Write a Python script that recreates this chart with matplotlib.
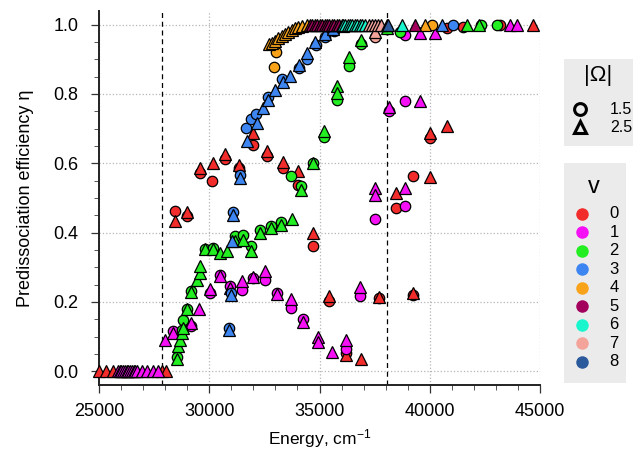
import matplotlib
matplotlib.use("Agg")
import matplotlib.pyplot as plt
from matplotlib.ticker import MultipleLocator

plt.rcParams['font.family'] = ['Liberation Sans', 'DejaVu Sans']
plt.rcParams['mathtext.fontset'] = 'custom'
plt.rcParams['mathtext.rm'] = 'Liberation Sans'
plt.rcParams['mathtext.it'] = 'Liberation Sans:italic'

# ---- data: energies (cm-1) and predissociation efficiency, per v and |Omega|
# v = 0
v0_c_E = [28450, 28990, 29580, 30110, 30710, 31350, 32000, 32630, 33330, 34040,
          34720, 35440, 36200, 37700, 38470, 39220, 39250, 40010, 40760, 41520, 43200]
v0_c_eta = [0.461, 0.447, 0.572, 0.55, 0.613, 0.585, 0.653, 0.62, 0.586, 0.538,
            0.362, 0.202, 0.052, 0.21, 0.471, 0.562, 0.22, 0.673, 0.99, 0.994, 1.0]
v0_t_E = [25000, 25330, 25650, 27870, 28050, 28450, 28990, 29580, 30150, 30710,
          31350, 32000, 32630, 33330, 34040, 34720, 35440, 36200, 36900, 37700,
          38470, 39250, 40010, 40010, 40760, 44700]
v0_t_eta = [0.0, 0.0, 0.0, 0.0, 0.0, 0.432, 0.46, 0.586, 0.60, 0.627,
            0.595, 0.687, 0.634, 0.603, 0.579, 0.40, 0.216, 0.048, 0.034, 0.214,
            0.514, 0.226, 0.559, 0.687, 0.708, 1.0]
# v = 1
v1_c_E = [28370, 29150, 30030, 30490, 30940, 31470, 32000, 32530, 33090, 33690,
          34260, 36200, 36840, 37520, 38170, 38880, 38880, 38880]
v1_c_eta = [0.117, 0.13, 0.226, 0.278, 0.245, 0.233, 0.27, 0.262, 0.225, 0.181,
            0.15, 0.065, 0.216, 0.439, 0.75, 0.476, 0.781, 0.97]
v1_t_E = [25850, 25930, 26010, 26090, 26170, 26250, 26330, 26410, 26490, 26570,
          26650, 26730, 26940, 27190, 27430, 27690, 27990, 28370, 29150, 29550,
          30030, 30490, 30940, 31470, 32000, 32530, 33090, 33690, 34260, 34950,
          34950, 35550, 36200, 36840, 37520, 37520, 38170, 38880, 39560, 39560,
          40240, 43640, 43940]
v1_t_eta = [0.0, 0.0, 0.0, 0.0, 0.0, 0.0, 0.0, 0.0, 0.0, 0.0,
            0.0, 0.0, 0.0, 0.0, 0.0, 0.0, 0.091, 0.11, 0.14, 0.178,
            0.237, 0.276, 0.24, 0.26, 0.272, 0.288, 0.224, 0.207, 0.141, 0.10,
            0.084, 0.055, 0.091, 0.243, 0.528, 0.509, 0.762, 0.528, 0.781, 0.975,
            0.975, 1.0, 1.0]
# v = 2
v2_c_E = [28520, 28750, 28830, 29000, 29150, 29810, 30150, 31170, 31550, 31890,
          32300, 32780, 33250, 33690, 34160, 34720, 35200, 35780, 36350, 36890,
          38070, 38650, 42300, 43030]
v2_c_eta = [0.04, 0.12, 0.149, 0.18, 0.23, 0.352, 0.355, 0.39, 0.394, 0.362,
            0.408, 0.418, 0.43, 0.564, 0.533, 0.602, 0.675, 0.783, 0.882, 0.945,
            0.987, 0.98, 1.0, 1.0]
v2_t_E = [28520, 28600, 28680, 28750, 28830, 29000, 29150, 29430, 29580, 29600,
          29810, 30150, 30490, 30820, 31170, 31550, 31890, 32300, 32780, 33250,
          33730, 34160, 34720, 35200, 35780, 35780, 36350, 36890, 38040, 41670, 42230]
v2_t_eta = [0.034, 0.074, 0.091, 0.11, 0.125, 0.18, 0.228, 0.264, 0.284, 0.303,
            0.353, 0.353, 0.341, 0.346, 0.375, 0.378, 0.346, 0.40, 0.413, 0.423,
            0.44, 0.522, 0.60, 0.692, 0.823, 0.804, 0.906, 0.956, 0.99, 1.0, 1.0]
# v = 3
v3_c_E = [30900, 30970, 31090, 31390, 31650, 31890, 32120, 32680, 33280, 34050,
          34420, 34850, 35250, 35650, 41070]
v3_c_eta = [0.125, 0.225, 0.46, 0.567, 0.703, 0.728, 0.742, 0.792, 0.843, 0.874,
            0.90, 0.94, 0.964, 0.983, 1.0]
v3_t_E = [30900, 30970, 31010, 31090, 31390, 31700, 32150, 32450, 32680, 33000,
          33340, 33680, 34050, 34420, 34800, 35250, 35630, 36080, 40540]
v3_t_eta = [0.12, 0.221, 0.375, 0.45, 0.557, 0.663, 0.716, 0.759, 0.783, 0.812,
            0.836, 0.852, 0.884, 0.918, 0.951, 0.973, 0.987, 0.996, 1.0]
# v = 4
v4_c_E = [32940, 33030, 40090]
v4_c_eta = [0.877, 0.922, 1.0]
v4_t_E = [32700, 32830, 32980, 33130, 33280, 33430, 33580, 33730, 33890, 34040,
          34220, 34420, 39780]
v4_t_eta = [0.943, 0.946, 0.954, 0.961, 0.967, 0.973, 0.979, 0.985, 0.99, 0.994,
            0.997, 0.999, 1.0]
# v = 5
v5_c_E = []
v5_c_eta = []
v5_t_E = [34570, 34680, 34790, 34900, 35010, 35120, 35230, 35340, 35450, 35560,
          35670, 35780, 35890, 36000, 39350]
v5_t_eta = [0.998, 0.998, 0.999, 0.999, 0.999, 1.0, 1.0, 1.0, 1.0, 1.0,
            1.0, 1.0, 1.0, 1.0, 1.0]
# v = 6
v6_c_E = []
v6_c_eta = []
v6_t_E = [36050, 36160, 36270, 36380, 36490, 36600, 36710, 36820, 36930, 37040, 38730]
v6_t_eta = [1.0, 1.0, 1.0, 1.0, 1.0, 1.0, 1.0, 1.0, 1.0, 1.0, 1.0]
# v = 7
v7_c_E = [37520]
v7_c_eta = [0.965]
v7_t_E = [37250, 37380, 37510, 37520, 37640, 37770]
v7_t_eta = [1.0, 1.0, 1.0, 0.98, 1.0, 1.0]
# v = 8
v8_c_E = []
v8_c_eta = []
v8_t_E = [38050, 38120]
v8_t_eta = [1.0, 1.0]

v_labels = ['0', '1', '2', '3', '4', '5', '6', '7', '8']
v_colors = ['#f22b2b', '#f510f5', '#22ee22', '#3d85f0', '#f9a31b',
            '#a3005e', '#19f5cc', '#f4a39a', '#2a5a9c']
omega_labels = ['1.5', '2.5']
dashed_E = [27850, 38070]

circles = [(v0_c_E, v0_c_eta), (v1_c_E, v1_c_eta), (v2_c_E, v2_c_eta),
           (v3_c_E, v3_c_eta), (v4_c_E, v4_c_eta), (v5_c_E, v5_c_eta),
           (v6_c_E, v6_c_eta), (v7_c_E, v7_c_eta), (v8_c_E, v8_c_eta)]
triangles = [(v0_t_E, v0_t_eta), (v1_t_E, v1_t_eta), (v2_t_E, v2_t_eta),
             (v3_t_E, v3_t_eta), (v4_t_E, v4_t_eta), (v5_t_E, v5_t_eta),
             (v6_t_E, v6_t_eta), (v7_t_E, v7_t_eta), (v8_t_E, v8_t_eta)]

fig = plt.figure(figsize=(6.34, 4.51), dpi=100)
ax = fig.add_axes([0.1562, 0.1463, 0.6956, 0.8297])

for E in dashed_E:
    ax.axvline(E, color='black', ls=(0, (4, 3)), lw=0.9, zorder=1)

for i in range(len(v_labels)):
    cE, ceta = circles[i]
    tE, teta = triangles[i]
    ax.plot(cE, ceta, 'o', ms=7.5, mfc=v_colors[i], mec='black', mew=0.9,
            clip_on=False, zorder=3)
    ax.plot(tE, teta, '^', ms=8, mfc=v_colors[i], mec='black', mew=0.9,
            clip_on=False, zorder=3)

ax.set_xlim(25000, 45000)
ax.set_ylim(-0.04, 1.04)
ax.xaxis.set_major_locator(MultipleLocator(5000))
ax.xaxis.set_minor_locator(MultipleLocator(1000))
ax.yaxis.set_major_locator(MultipleLocator(0.2))
ax.yaxis.set_minor_locator(MultipleLocator(0.05))
ax.yaxis.set_major_formatter(lambda y, p: f"{y:.1f}")
ax.grid(True, which='major', ls=':', color='#b5b5b5', lw=0.9)
ax.set_axisbelow(True)
for s in ['top', 'right']:
    ax.spines[s].set_visible(False)
for s in ['left', 'bottom']:
    ax.spines[s].set_linewidth(1.4)
    ax.spines[s].set_color('#222222')
ax.spines['bottom'].set_bounds(25000, 45000)
ax.tick_params(which='major', direction='out', length=6, width=0.9,
               labelsize=13, color='#333333', pad=9)
ax.tick_params(axis='x', which='major', pad=7)
ax.tick_params(which='minor', direction='out', length=3.5, width=0.7, color='#555555')
ax.set_xlabel(r'Energy, cm$^{-1}$', fontsize=12.5, labelpad=5)
ax.set_ylabel('Predissociation efficiency η', fontsize=13, labelpad=14)

# legend 1: |Omega| marker shapes
lg1 = fig.add_axes([564 / 634, 1 - 146 / 451, 69 / 634, 87 / 451])
lg1.set_facecolor('#ebebeb')
lg1.set_xlim(0, 69)
lg1.set_ylim(87, 0)
lg1.set_xticks([])
lg1.set_yticks([])
for s in lg1.spines.values():
    s.set_visible(False)
lg1.text(34, 16, '|Ω|', fontsize=16, ha='center', va='center')
for j, (m, lab) in enumerate(zip(['o', '^'], omega_labels)):
    yy = 50 + 18 * j
    lg1.plot([16], [yy], m, ms=8.5, mfc='none', mec='black', mew=2.2)
    lg1.text(46, yy, lab, fontsize=11.5, ha='left', va='center')

# legend 2: v colours
lg2 = fig.add_axes([564 / 634, 1 - 383 / 451, 62 / 634, 220 / 451])
lg2.set_facecolor('#ebebeb')
lg2.set_xlim(0, 62)
lg2.set_ylim(220, 0)
lg2.set_xticks([])
lg2.set_yticks([])
for s in lg2.spines.values():
    s.set_visible(False)
lg2.text(30, 24, 'v', fontsize=17, ha='center', va='center')
for j, lab in enumerate(v_labels):
    yy = 50.6 + 18.55 * j
    lg2.plot([18.3], [yy], 'o', ms=9, mfc=v_colors[j], mec='none')
    lg2.text(50, yy, lab, fontsize=12, ha='center', va='center')

fig.savefig('out.png', dpi=100)
